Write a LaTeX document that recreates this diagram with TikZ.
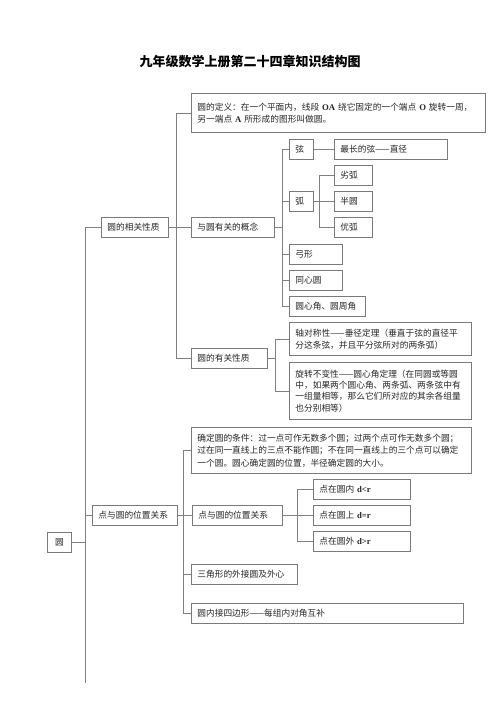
\documentclass[tikz,border=0pt]{standalone}
\usepackage{fontspec}
\setmainfont{Noto Sans CJK SC}
\newfontfamily\lat{Liberation Serif}
\usepackage{tikz}
\usetikzlibrary{positioning, calc}
\definecolor{boxgray}{HTML}{7A7A7A}
\definecolor{linegray}{HTML}{808080}
\definecolor{textgray}{HTML}{262626}

\begin{document}
\begin{tikzpicture}[x=1pt, y=-1pt, line width=0.8pt]
        \tikzstyle{box} = [draw=boxgray, fill=white, rectangle, anchor=north west, align=left, inner xsep=6pt, inner ysep=0pt, text=textgray, font=\fontsize{8.7}{12}\selectfont]
        \tikzstyle{line} = [draw=linegray]
        \useasboundingbox (0,0) rectangle (500,707);

        % --- 标题 ---
        \node [font=\fontsize{13}{15}\selectfont\bfseries, text=black] (title) at (250,62) {九年级数学上册第二十四章知识结构图};

        % --- 第一层 ---
        \node [box, align=center, text width=12pt, minimum height=20pt] (yuan) at (47,532) {圆};
        \node [box, text width=55pt, minimum height=20pt] (xzxz) at (101,217) {圆的相关性质};
        \node [box, text width=73pt, minimum height=20pt] (wzgx1) at (92,505) {点与圆的位置关系};

        % --- 圆的相关性质 ---
        \node [box, text width=282pt, minimum height=39pt] (def) at (191,93) {圆的定义：在一个平面内，线段 {\lat\bfseries OA} 绕它固定的一个端点 {\lat\bfseries O} 旋转一周，\\另一端点 {\lat\bfseries A} 所形成的图形叫做圆。};
        \node [box, text width=71pt, minimum height=20pt] (concept) at (191,217) {与圆有关的概念};
        \node [box, text width=64pt, minimum height=20pt] (prop) at (191,348) {圆的有关性质};

        % --- 与圆有关的概念 ---
        \node [box, text width=12pt, minimum height=20pt] (chord) at (289,139) {弦};
        \node [box, text width=101pt, minimum height=20pt] (diam) at (334,139) {最长的弦——直径};
        \node [box, text width=12pt, minimum height=20pt] (arc) at (289,191) {弧};
        \node [box, text width=26pt, minimum height=20pt] (minor) at (334,165) {劣弧};
        \node [box, text width=26pt, minimum height=20pt] (semi) at (334,191) {半圆};
        \node [box, text width=26pt, minimum height=20pt] (major) at (334,217) {优弧};
        \node [box, text width=41pt, minimum height=20pt] (segment) at (289,244) {弓形};
        \node [box, text width=41pt, minimum height=20pt] (concen) at (289,270) {同心圆};
        \node [box, text width=64pt, minimum height=20pt] (angle) at (289,296) {圆心角、圆周角};

        % --- 圆的有关性质 ---
        \node [box, text width=170pt, minimum height=33pt] (axial) at (289,322) {轴对称性——垂径定理（垂直于弦的直径平\\分这条弦，并且平分弦所对的两条弧）};
        \node [box, text width=170pt, minimum height=57pt, font=\fontsize{8.7}{11.2}\selectfont] (rot) at (289,362) {旋转不变性——圆心角定理（在同圆或等圆\\中，如果两个圆心角、两条弧、两条弦中有\\一组量相等，那么它们所对应的其余各组量\\也分别相等）};

        % --- 点与圆的位置关系 ---
        \node [box, text width=268pt, minimum height=46pt, font=\fontsize{8.7}{12.5}\selectfont] (cond) at (191,427) {确定圆的条件：过一点可作无数多个圆；过两个点可作无数多个圆；\\过在同一直线上的三点不能作圆；不在同一直线上的三个点可以确定\\一个圆。圆心确定圆的位置，半径确定圆的大小。};
        \node [box, text width=78pt, minimum height=20pt] (wzgx2) at (192,505) {点与圆的位置关系};
        \node [box, text width=94pt, minimum height=20pt] (tri) at (191,564) {三角形的外接圆及外心};
        \node [box, text width=260pt, minimum height=20pt] (quad) at (191,603) {圆内接四边形——每组内对角互补};
        \node [box, text width=85pt, minimum height=20pt] (inside) at (313,479) {点在圆内 {\lat\bfseries d<r}};
        \node [box, text width=85pt, minimum height=20pt] (on) at (313,505) {点在圆上 {\lat\bfseries d=r}};
        \node [box, text width=85pt, minimum height=20pt] (outside) at (313,531) {点在圆外 {\lat\bfseries d>r}};

        % --- 连线: 主干 ---
        \coordinate (trunk_end) at (85,683);
        \draw [line] (xzxz.west) -| (trunk_end);
        \draw [line] (yuan.east) -- (yuan.east -| trunk_end);
        \draw [line] (wzgx1.west) -- (wzgx1.west -| trunk_end);

        % --- 连线: 圆的相关性质 ---
        \draw [line] (def.west) -- ++(-15,0) |- (prop.west);
        \draw [line] (xzxz.east) -- (concept.west);

        % 与圆有关的概念
        \draw [line] (chord.west) -- ++(-7,0) |- (angle.west);
        \draw [line] (concept.east) -- ++(8,0);
        \draw [line] (arc.west) -- ++(-7,0);
        \draw [line] (segment.west) -- ++(-7,0);
        \draw [line] (concen.west) -- ++(-7,0);
        \draw [line] (chord.east) -- (diam.west);
        \draw [line] (minor.west) -- ++(-15,0) |- (major.west);
        \draw [line] (arc.east) -- (semi.west);

        % 圆的有关性质
        \draw [line] (axial.west) -- ++(-14,0) |- (rot.west);
        \draw [line] (prop.east) -- ++(8,0);

        % --- 连线: 点与圆的位置关系 ---
        \draw [line] (cond.west) -- ++(-8,0) |- (quad.west);
        \draw [line] (wzgx1.east) -- (wzgx2.west);
        \draw [line] (tri.west) -- ++(-8,0);
        \draw [line] (inside.west) -- ++(-16,0) |- (outside.west);
        \draw [line] (wzgx2.east) -- (on.west);

    \end{tikzpicture}
\end{document}
